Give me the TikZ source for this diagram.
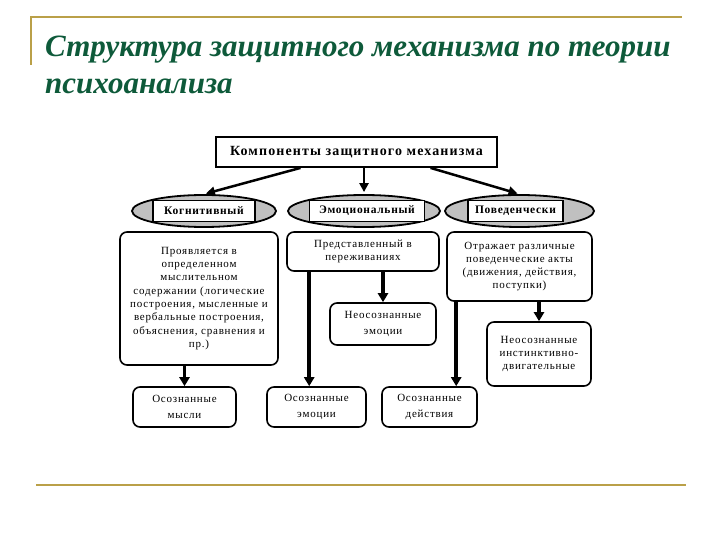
\documentclass[tikz,border=0pt]{standalone}
\usepackage{fontspec}
\setmainfont{Liberation Serif}
\usetikzlibrary{arrows.meta, positioning, shapes.geometric}
\definecolor{titlegreen}{RGB}{14,90,58}
\definecolor{rulegold}{RGB}{186,160,72}
\definecolor{ovalgray}{RGB}{192,192,192}

\begin{document}
\begin{tikzpicture}[x=1pt, y=-1pt,
  title/.style={font=\fontsize{31}{38}\selectfont\bfseries\itshape, text=titlegreen, inner sep=0pt},
  rule/.style={rulegold, line width=2.5pt},
  head/.style={rectangle, draw, line width=1.8pt, fill=white, minimum width=281pt,
               minimum height=30pt, font=\fontsize{14}{16}\selectfont\bfseries\addfontfeature{LetterSpace=8}},
  oval/.style={ellipse, draw, line width=1.8pt, fill=ovalgray, minimum height=32pt, inner sep=0pt},
  tag/.style={rectangle, draw, line width=1.6pt, fill=white, minimum height=21pt,
              font=\fontsize{11.5}{13}\selectfont\bfseries\addfontfeature{LetterSpace=6}, inner sep=1pt},
  card/.style={rectangle, rounded corners=7pt, draw, line width=1.6pt, fill=white,
               align=center, font=\fontsize{11}{13.3}\selectfont\addfontfeature{LetterSpace=7}, inner sep=2pt},
  result/.style={card, font=\fontsize{11}{16}\selectfont\addfontfeature{LetterSpace=7}},
  arrow/.style={-{Triangle[length=9pt, width=10pt]}, line width=3.5pt},
  slant/.style={-{Triangle[length=9pt, width=9pt]}, line width=2.5pt, shorten >=2pt}
]
\useasboundingbox (0,0) rectangle (720,540);

% frame and title
\draw[rule] (30,17) -- (682,17);
\draw[rule] (31,17) -- (31,65);
\draw[rule] (36,485) -- (686,485);
\node[title, anchor=base west] (ttl1) at (45,57) {Структура защитного механизма по теории};
\node[title, anchor=base west] (ttl2) at (45,94) {психоанализа};

% components
\node[head] (comp) at (356.5,152) {Компоненты защитного механизма};

\node[oval, minimum width=144pt] (cog) at (204,211) {};
\node[tag, minimum width=102pt] (coglbl) at (cog) {Когнитивный};
\node[oval, minimum width=152pt] (emo) at (364,211) {};
\node[tag, minimum width=115pt] (emolbl) at ([xshift=3pt]emo.center) {Эмоциональный};
\node[oval, minimum width=149pt] (beh) at (519.5,211) {};
\node[tag, minimum width=95pt] (behlbl) at ([xshift=-4pt]beh.center) {Поведенчески};

% descriptions
\node[card, minimum width=158pt, minimum height=133pt] (cogcard) at (199,298.5)
  {Проявляется в\\определенном\\мыслительном\\содержании (логические\\построения, мысленные и\\вербальные построения,\\объяснения, сравнения и\\пр.)};
\node[card, minimum width=152pt, minimum height=39pt] (emocard) at (363,251.5)
  {Представленный в\\переживаниях};
\node[card, minimum width=145pt, minimum height=69pt] (behcard) at (519.5,266.5)
  {Отражает различные\\поведенческие акты\\(движения, действия,\\поступки)};
\node[result, minimum width=106pt, minimum height=42pt] (hidfeel) at (383,324)
  {Неосознанные\\эмоции};
\node[card, minimum width=104pt, minimum height=64pt] (instinct) at (539,354)
  {Неосознанные\\инстинктивно-\\двигательные};

% outcomes
\node[result, minimum width=103pt, minimum height=40pt] (thought) at (184.5,407)
  {Осознанные\\мысли};
\node[result, minimum width=99pt, minimum height=40pt] (feel) at (316.5,407)
  {Осознанные\\эмоции};
\node[result, minimum width=95pt, minimum height=40pt] (act) at (429.5,407)
  {Осознанные\\действия};

\draw[slant] ([xshift=-56pt]comp.south) -- (cog.north);
\draw[slant] (comp.south -| emo.north) -- (emo.north);
\draw[slant] ([xshift=74pt]comp.south) -- (beh.north);

\draw[arrow] (thought.north |- cogcard.south) -- (thought.north);
\draw[arrow] ([xshift=23pt]emocard.south west) -- ([xshift=23pt]emocard.south west |- feel.north);
\draw[arrow] (hidfeel.north |- emocard.south) -- (hidfeel.north);
\draw[arrow] ([xshift=10pt]behcard.south west) -- ([xshift=10pt]behcard.south west |- act.north);
\draw[arrow] (instinct.north |- behcard.south) -- (instinct.north);
\end{tikzpicture}
\end{document}
